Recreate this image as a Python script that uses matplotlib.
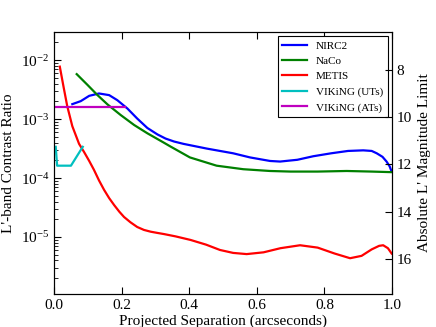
import numpy as np
import matplotlib
matplotlib.use('Agg')
from matplotlib import pyplot as plt
from matplotlib.ticker import LogLocator, LogFormatterMathtext

plt.rcParams['font.family'] = ['Liberation Serif', 'DejaVu Serif']
plt.rcParams['mathtext.fontset'] = 'custom'
plt.rcParams['mathtext.rm'] = 'Liberation Serif'
plt.rcParams['mathtext.it'] = 'Liberation Serif:italic'
plt.rcParams['xtick.direction'] = 'in'
plt.rcParams['ytick.direction'] = 'in'

# data (separation in arcsec, log10 contrast)
nirc2_x = [0.054, 0.079, 0.104, 0.133, 0.163, 0.187, 0.217, 0.246, 0.276, 0.306, 0.33, 0.355,
           0.383, 0.452, 0.53, 0.58, 0.639, 0.669, 0.72, 0.767, 0.82, 0.87, 0.915, 0.94, 0.955,
           0.972, 0.984, 0.993, 0.999]
nirc2_log = [-2.746, -2.695, -2.605, -2.565, -2.593, -2.678, -2.82, -2.99, -3.15, -3.26, -3.33,
             -3.38, -3.42, -3.50, -3.58, -3.65, -3.71, -3.72, -3.69, -3.63, -3.58, -3.54, -3.53,
             -3.54, -3.58, -3.64, -3.72, -3.80, -3.89]

naco_x = [0.067, 0.099, 0.128, 0.158, 0.197, 0.237, 0.276, 0.325, 0.343, 0.402, 0.481, 0.56,
          0.639, 0.7, 0.78, 0.866, 0.94, 0.999]
naco_log = [-2.237, -2.42, -2.59, -2.75, -2.93, -3.10, -3.24, -3.40, -3.46, -3.65, -3.79, -3.85,
            -3.88, -3.89, -3.89, -3.88, -3.89, -3.90]

metis_x = [0.017, 0.028, 0.039, 0.054, 0.074, 0.089, 0.104, 0.118, 0.133, 0.148, 0.163, 0.178,
           0.193, 0.207, 0.226, 0.246, 0.266, 0.286, 0.305, 0.325, 0.36, 0.404, 0.45, 0.491,
           0.53, 0.57, 0.62, 0.67, 0.728, 0.78, 0.83, 0.876, 0.91, 0.94, 0.962, 0.974, 0.988,
           0.999]
metis_log = [-2.11, -2.45, -2.78, -3.12, -3.42, -3.56, -3.71, -3.86, -4.04, -4.20, -4.34, -4.46,
             -4.57, -4.66, -4.75, -4.83, -4.88, -4.91, -4.93, -4.95, -4.99, -5.05, -5.13, -5.22,
             -5.27, -5.29, -5.26, -5.19, -5.14, -5.18, -5.28, -5.36, -5.32, -5.21, -5.15, -5.14,
             -5.19, -5.28]

viking_ut_x = [0.005, 0.009, 0.05, 0.085]
viking_ut_log = [-3.47, -3.79, -3.79, -3.47]

viking_at_x = [0.0, 0.21]
viking_at_log = [-2.797, -2.797]

m_star = 2.58
ylim = (1.08e-6, 3e-2)

fig = plt.figure(figsize=(4.36, 3.27), dpi=100)
ax = fig.add_axes([0.124, 0.101, 0.775, 0.801])

ax.plot(nirc2_x, 10**np.array(nirc2_log), color='b', lw=1.6, label='NIRC2')
ax.plot(naco_x, 10**np.array(naco_log), color='g', lw=1.6, label='NaCo')
ax.plot(metis_x, 10**np.array(metis_log), color='r', lw=1.6, label='METIS')
ax.plot(viking_ut_x, 10**np.array(viking_ut_log), color='c', lw=1.6, label='VIKiNG (UTs)')
ax.plot(viking_at_x, 10**np.array(viking_at_log), color='m', lw=1.6, label='VIKiNG (ATs)')

ax.set_yscale('log')
ax.set_ylim(ylim)
ax.set_xlim(0, 1)
ax.set_xticks([0.0, 0.2, 0.4, 0.6, 0.8, 1.0])
ax.set_xticklabels(['0.0', '0.2', '0.4', '0.6', '0.8', '1.0'])
ax.yaxis.set_major_locator(LogLocator(base=10, numticks=10))
ax.yaxis.set_major_formatter(LogFormatterMathtext())
ax.tick_params(labelsize=11, length=5, top=True)
ax.tick_params(which='minor', length=3)
ax.set_xlabel('Projected Separation (arcseconds)', fontsize=11, labelpad=2)
ax.set_ylabel("L'-band Contrast Ratio", fontsize=11)

ax2 = ax.twinx()
ax2.set_ylim(m_star - 2.5*np.log10(ylim[0]), m_star - 2.5*np.log10(ylim[1]))
ax2.set_yticks([8, 10, 12, 14, 16])
ax2.tick_params(labelsize=11, length=5, direction='in')
ax2.set_ylabel("Absolute L' Magnitude Limit", fontsize=11)

leg = ax.legend(loc='upper right', fontsize=8, fancybox=False, framealpha=1,
                edgecolor='k', handlelength=2.2, borderaxespad=0.4)
leg.get_frame().set_linewidth(0.8)

fig.savefig('out.png', dpi=100)
